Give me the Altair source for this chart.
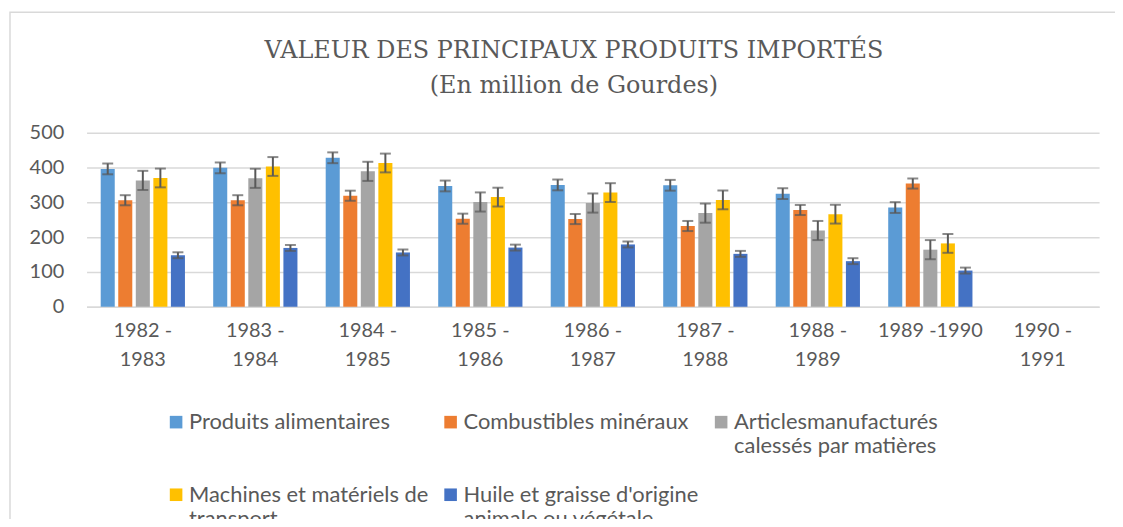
import altair as alt
import pandas as pd

periods = ["1982 - 1983", "1983 - 1984", "1984 - 1985", "1985 - 1986", "1986 - 1987",
           "1987 - 1988", "1988 - 1989", "1989 -1990", "1990 - 1991"]
series = ["Produits alimentaires", "Combustibles minéraux",
          "Articlesmanufacturés\ncalessés par matières",
          "Machines et matériels de\ntransport",
          "Huile et graisse d'origine\nanimale ou végétale"]
colors = ["#5B9BD5", "#ED7D31", "#A5A5A5", "#FFC000", "#4472C4"]
y_ticks = [0, 100, 200, 300, 400, 500]

produits_alimentaires = [396, 399, 428, 347, 350, 349, 325, 285]
combustibles_mineraux = [306, 306, 319, 253, 252, 232, 278, 354]
articles_manufactures = [363, 369, 389, 301, 298, 269, 219, 164]
machines_transport = [370, 403, 413, 315, 328, 307, 266, 182]
huile_graisse = [148, 169, 156, 170, 179, 152, 131, 104]
errors = [15.5, 14.5, 27.5, 27.0, 8.5]  # standard error bars per series

values = [produits_alimentaires, combustibles_mineraux, articles_manufactures,
          machines_transport, huile_graisse]

rows = []
for s, vals, e in zip(series, values, errors):
    for p, v in zip(periods, vals):
        rows.append({"period": p, "series": s, "value": v, "lo": v - e, "hi": v + e})
df = pd.DataFrame(rows)

label_font = "Lato"
grey = "#595959"

x_scale = alt.Scale(domain=periods, paddingInner=0.22, paddingOuter=0.11)
x_axis = alt.Axis(title=None, labelAngle=0, labelFontSize=20, labelFont=label_font,
                  labelColor=grey, labelPadding=14, labelLineHeight=29, ticks=False,
                  domainColor="#D9D9D9", domainWidth=1.5,
                  labelExpr="indexof(datum.label, ' - ') > 0 ? [split(datum.label, ' - ')[0] + ' -', split(datum.label, ' - ')[1]] : datum.label")
x_enc = alt.X("period:N", scale=x_scale, axis=x_axis)
xoff = alt.XOffset("series:N", scale=alt.Scale(domain=series, paddingInner=0.2, paddingOuter=0.1))
y_scale = alt.Scale(domain=[0, 500])
y_axis = alt.Axis(title=None, values=y_ticks, labelFontSize=20, labelFont=label_font,
                  labelColor=grey, labelPadding=23, ticks=False, labelOverlap=False,
                  domain=False, gridColor="#D9D9D9", gridWidth=1.5)

base = alt.Chart(df)

bars = base.mark_bar().encode(
    x=x_enc,
    xOffset=xoff,
    y=alt.Y("value:Q", scale=y_scale, axis=y_axis),
    color=alt.Color("series:N", scale=alt.Scale(domain=series, range=colors),
                    legend=alt.Legend(title=None, orient="none", legendX=79, legendY=280,
                                      direction="horizontal", columns=3, symbolType="square",
                                      padding=0, symbolSize=160, symbolStrokeWidth=0,
                                      labelFontSize=22, labelFont=label_font, labelColor=grey,
                                      labelOffset=2, columnPadding=11, rowPadding=27,
                                      labelLimit=400, labelBaseline="middle",
                                      labelExpr="indexof(datum.label, '\\n') > 0 ? split(datum.label, '\\n') : [datum.label, '']")),
)

rules = base.mark_rule(color=grey, strokeWidth=2).encode(
    x=x_enc,
    xOffset=xoff,
    y=alt.Y("lo:Q", scale=y_scale, axis=y_axis),
    y2="hi:Q",
)
caps_lo = base.mark_tick(color=grey, thickness=2, size=11).encode(
    x=x_enc,
    xOffset=xoff,
    y=alt.Y("lo:Q", scale=y_scale, axis=y_axis),
)
caps_hi = base.mark_tick(color=grey, thickness=2, size=11).encode(
    x=x_enc,
    xOffset=xoff,
    y=alt.Y("hi:Q", scale=y_scale, axis=y_axis),
)

frame = alt.Chart(pd.DataFrame({"f": [0]})).mark_rect(
    fillOpacity=0, stroke="#D9D9D9", strokeWidth=1.5
).encode(
    x=alt.value(-77), x2=alt.value(1060), y=alt.value(-121), y2=alt.value(450)
)

chart = alt.layer(frame, bars, rules, caps_lo, caps_hi).properties(
    width=1018,
    height=175,
    autosize=alt.AutoSizeParams(type="none"),
    padding={"left": 79, "top": 124, "right": 16, "bottom": 212},
    title=alt.Title(["VALEUR DES PRINCIPAUX PRODUITS IMPORTÉS", "(En million de Gourdes)"],
                    font="DejaVu Serif", fontSize=24, fontWeight="normal", color=grey,
                    lineHeight=35, anchor="middle", dx=-19, offset=0, dy=87),
).configure_view(stroke=None)

chart.save("out.html", embed_options={"renderer": "svg", "actions": False})
